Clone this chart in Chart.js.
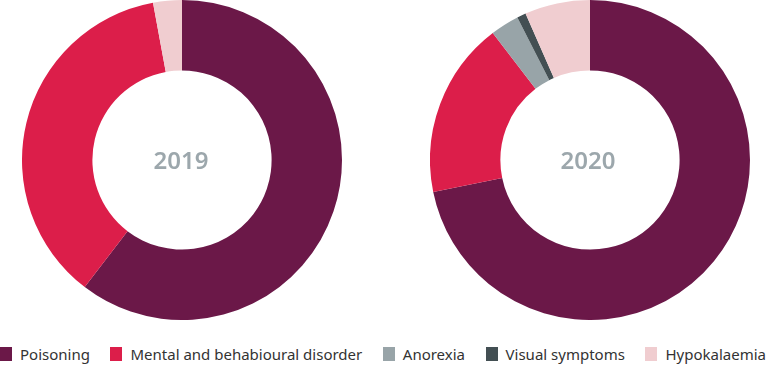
<!DOCTYPE html>
<html lang="en">
<head>
    <meta charset="UTF-8">
    <title>Diagnoses 2019 vs 2020</title>
    <script src="https://cdn.jsdelivr.net/npm/chart.js"></script>
    <style>
        body { margin: 0; background: #fff; font-family: "Noto Sans", sans-serif; }
        #wrap { position: relative; width: 767px; height: 365px; overflow: hidden; }
        .pie { position: absolute; top: 0; width: 320px; height: 320px; }
        .year { position: absolute; top: 143px; width: 120px; text-align: center;
                font-size: 24px; font-weight: 600; color: #9ca7ac; line-height: 34px; }
        #legend { position: absolute; left: 0; right: 1px; top: 344px; display: flex;
                  justify-content: space-between; font-size: 15px; color: #333; }
        .item { display: flex; align-items: center; white-space: nowrap; }
        .box { width: 12px; height: 14px; margin-right: 8px; }
    </style>
</head>
<body>
<div id="wrap">
    <div class="pie" style="left:22px"><canvas id="chart2019"></canvas></div>
    <div class="pie" style="left:430px"><canvas id="chart2020"></canvas></div>
    <div class="year" style="left:121px">2019</div>
    <div class="year" style="left:528px">2020</div>
    <div id="legend"></div>
</div>
<script>
    // categories and colours
    const categories = ['Poisoning', 'Mental and behabioural disorder', 'Anorexia', 'Visual symptoms', 'Hypokalaemia'];
    const colors = ['#6b1848', '#dc1e4a', '#98a4a8', '#434f53', '#f0cdd0'];

    // share of cases (%)
    const values2019 = [60.4, 36.7, 0, 0, 2.9];
    const values2020 = [71.8, 17.8, 2.9, 0.9, 6.6];

    function makeDonut(id, values) {
        const ctx = document.getElementById(id).getContext('2d');
        return new Chart(ctx, {
            type: 'doughnut',
            data: {
                labels: categories,
                datasets: [{
                    data: values,
                    backgroundColor: colors,
                    borderWidth: 0
                }]
            },
            options: {
                responsive: true,
                maintainAspectRatio: false,
                animation: false,
                cutout: '56%',
                layout: { padding: 0 },
                plugins: {
                    legend: { display: false },
                    tooltip: { enabled: false }
                }
            }
        });
    }

    makeDonut('chart2019', values2019);
    makeDonut('chart2020', values2020);

    // legend
    const legend = document.getElementById('legend');
    categories.forEach((c, i) => {
        const item = document.createElement('div');
        item.className = 'item';
        item.innerHTML = '<span class="box" style="background:' + colors[i] + '"></span><span>' + c + '</span>';
        legend.appendChild(item);
    });
</script>
</body>
</html>
